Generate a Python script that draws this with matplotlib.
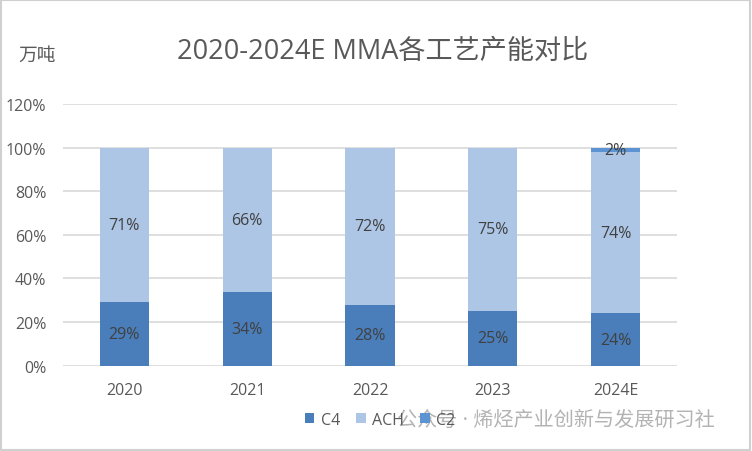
import matplotlib
matplotlib.use('Agg')
import matplotlib.pyplot as plt
from matplotlib.patches import Rectangle
import numpy as np

plt.rcParams['font.family'] = ['Open Sans', 'Noto Sans CJK SC', 'DejaVu Sans']

years = ['2020', '2021', '2022', '2023', '2024E']
c4 = [29, 34, 28, 25, 24]
ach = [71, 66, 72, 75, 74]
c2 = [0, 0, 0, 0, 2]
series_names = ['C4', 'ACH', 'C2']
colors = ['#4a7ebb', '#adc6e6', '#5b93d3']

fig = plt.figure(figsize=(7.52, 4.52), dpi=100)
ax = fig.add_axes([63 / 752, 1 - 366.7 / 452, 614 / 752, 261.7 / 452])

x = np.arange(len(years))
bottom = np.zeros(len(years))
for name, vals, col in zip(series_names, [c4, ach, c2], colors):
    vals = np.array(vals, dtype=float)
    ax.bar(x, vals, 0.4, bottom=bottom, color=col, label=name, zorder=2)
    for xi, b, v in zip(x, bottom, vals):
        if v > 0:
            ax.text(xi, b + v / 2, f'{v:.0f}%', ha='center', va='center',
                    fontsize=11.5, color='#404040', zorder=3)
    bottom += vals

ax.set_xlim(-0.5, len(years) - 0.5)
ax.set_ylim(0, 120)
ax.set_yticks(range(0, 121, 20))
ax.set_yticklabels([f'{v}%' for v in range(0, 121, 20)])
ax.set_xticks(x)
ax.set_xticklabels(years)
ax.tick_params(axis='both', length=0, labelsize=11.5, colors='#595959')
ax.tick_params(axis='y', pad=12)
ax.tick_params(axis='x', pad=12)
ax.yaxis.grid(True, color='#d9d9d9', linewidth=1.2, zorder=0)
for s in ax.spines.values():
    s.set_visible(False)

fig.text(383 / 752, 1 - 52 / 452, '2020-2024E MMA各工艺产能对比', ha='center', va='center',
         fontsize=19.5, color='#595959')
fig.text(18 / 752, 1 - 56 / 452, '万吨', ha='left', va='center', fontsize=13.5, color='#595959')

fig.legend(loc='center', bbox_to_anchor=(380 / 752, 1 - 421 / 452), ncol=3, frameon=False,
           fontsize=11.5, handlelength=0.6, handleheight=0.6, handletextpad=0.4,
           columnspacing=1.0, labelcolor='#595959')

fig.text(397 / 752, 1 - 421 / 452, '公众号 · 烯烃产业创新与发展研习社', ha='left', va='center',
         fontsize=14.5, color='#a6a6a6', alpha=0.85)

fig.patches.append(Rectangle((0.001, 0.002), 0.997, 0.995, transform=fig.transFigure,
                             fill=False, edgecolor='#d0d0d0', linewidth=1.5))

fig.savefig('out.png', dpi=100)
